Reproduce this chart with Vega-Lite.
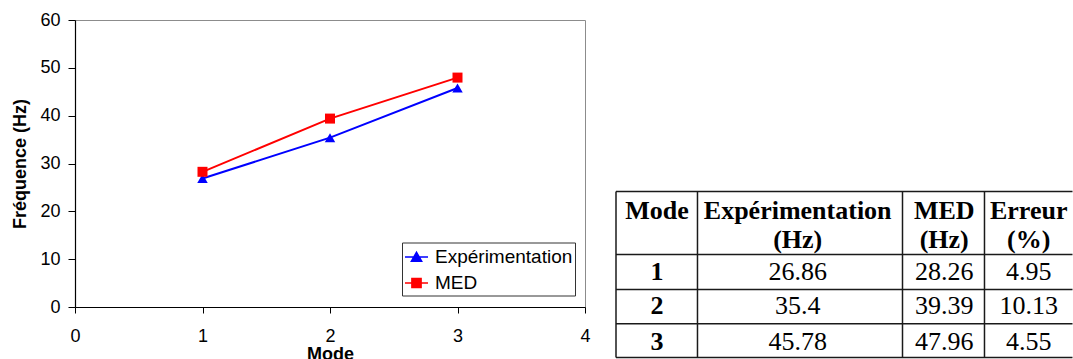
{
  "$schema": "https://vega.github.io/schema/vega-lite/v6.json",
  "padding": {"left": 11, "top": 10, "right": 0, "bottom": 0},
  "background": "white",
  "bounds": "flush",
  "spacing": 31,
  "config": {
    "view": {"stroke": null},
    "font": "Liberation Sans"
  },
  "datasets": {
    "freq": [
      {"Mode": 1, "Série": "Expérimentation", "Fréquence": 26.86},
      {"Mode": 2, "Série": "Expérimentation", "Fréquence": 35.4},
      {"Mode": 3, "Série": "Expérimentation", "Fréquence": 45.78},
      {"Mode": 1, "Série": "MED", "Fréquence": 28.26},
      {"Mode": 2, "Série": "MED", "Fréquence": 39.39},
      {"Mode": 3, "Série": "MED", "Fréquence": 47.96}
    ],
    "cells": [
      {"x": 9, "y": 0.6, "texte": "Mode", "type": "entête"},
      {"x": 39.8, "y": 0.6, "texte": "Expérimentation", "type": "entête"},
      {"x": 39.8, "y": 1.45, "texte": "(Hz)", "type": "entête"},
      {"x": 71.9, "y": 0.6, "texte": "MED", "type": "entête"},
      {"x": 71.9, "y": 1.45, "texte": "(Hz)", "type": "entête"},
      {"x": 90.4, "y": 0.6, "texte": "Erreur", "type": "entête"},
      {"x": 90.4, "y": 1.45, "texte": "(%)", "type": "entête"},
      {"x": 9, "y": 2.42, "texte": "1", "type": "mode"},
      {"x": 9, "y": 3.45, "texte": "2", "type": "mode"},
      {"x": 9, "y": 4.52, "texte": "3", "type": "mode"},
      {"x": 39.8, "y": 2.42, "texte": "26.86", "type": "valeur"},
      {"x": 71.9, "y": 2.42, "texte": "28.26", "type": "valeur"},
      {"x": 90.4, "y": 2.42, "texte": "4.95", "type": "valeur"},
      {"x": 39.8, "y": 3.45, "texte": "35.4", "type": "valeur"},
      {"x": 71.9, "y": 3.45, "texte": "39.39", "type": "valeur"},
      {"x": 90.4, "y": 3.45, "texte": "10.13", "type": "valeur"},
      {"x": 39.8, "y": 4.52, "texte": "45.78", "type": "valeur"},
      {"x": 71.9, "y": 4.52, "texte": "47.96", "type": "valeur"},
      {"x": 90.4, "y": 4.52, "texte": "4.55", "type": "valeur"}
    ],
    "hlines": [{"y": 0}, {"y": 1.9}, {"y": 2.95}, {"y": 3.98}, {"y": 5}],
    "vlines": [{"x": 0}, {"x": 17.85}, {"x": 62.76}, {"x": 80.72}]
  },
  "resolve": {"scale": {"color": "independent", "fill": "independent", "stroke": "independent", "shape": "independent", "x": "independent", "y": "independent"}},
  "hconcat": [
    {
      "width": 510,
      "height": 287,
      "view": {"stroke": "#8c8c8c", "strokeWidth": 1},
      "data": {"name": "freq"},
      "encoding": {
        "x": {
          "field": "Mode", "type": "quantitative",
          "scale": {"domain": [0, 4], "nice": false, "zero": false},
          "axis": {
            "values": [0, 1, 2, 3, 4], "title": "Mode", "grid": false,
            "labelFont": "Liberation Sans", "labelFontSize": 18, "labelColor": "black",
            "labelPadding": 14, "labelFlush": false, "labelOverlap": false,
            "tickColor": "black", "tickSize": 6, "domainColor": "black", "domainWidth": 1.2,
            "titleFont": "Liberation Sans", "titleFontSize": 18, "titleFontWeight": "bold",
            "titleColor": "black", "titlePadding": 0
          }
        },
        "y": {
          "field": "Fréquence", "type": "quantitative",
          "scale": {"domain": [0, 60], "nice": false},
          "axis": {
            "values": [0, 10, 20, 30, 40, 50, 60], "title": "Fréquence (Hz)", "grid": false,
            "labelFont": "Liberation Sans", "labelFontSize": 18, "labelColor": "black",
            "labelPadding": 8, "labelFlush": false, "labelOverlap": false,
            "tickColor": "black", "tickSize": 7, "domainColor": "black", "domainWidth": 1.2,
            "titleFont": "Liberation Sans", "titleFontSize": 18, "titleFontWeight": "bold",
            "titleColor": "black", "titlePadding": 10
          }
        }
      },
      "layer": [
        {
          "transform": [{"filter": "datum['Série'] === 'Expérimentation'"}],
          "mark": {"type": "line", "strokeWidth": 2, "color": "#0000ff"}
        },
        {
          "transform": [{"filter": "datum['Série'] === 'MED'"}],
          "mark": {"type": "line", "strokeWidth": 2, "color": "#ff0000"}
        },
        {
          "transform": [{"filter": "datum['Série'] === 'Expérimentation'"}],
          "mark": {"type": "point", "shape": "triangle-up", "filled": true, "opacity": 1, "size": 110, "color": "#0000ff"}
        },
        {
          "transform": [{"filter": "datum['Série'] === 'MED'"}],
          "mark": {"type": "point", "shape": "square", "filled": true, "opacity": 1, "size": 100, "color": "#ff0000"}
        },
        {
          "mark": {"type": "point", "opacity": 0, "strokeWidth": 1.5},
          "encoding": {
            "fill": {
              "field": "Série", "type": "nominal",
              "scale": {"domain": ["Expérimentation", "MED"], "range": ["#0000ff", "#ff0000"]},
              "legend": {
                "title": null, "orient": "none", "legendX": 327, "legendY": 222.5,
                "fillColor": "white", "strokeColor": "#333333", "padding": 2, "cornerRadius": 0,
                "labelFont": "Liberation Sans", "labelFontSize": 19, "labelColor": "black",
                "labelOffset": 6, "labelLimit": 400, "symbolOpacity": 1,
                "symbolSize": 529, "symbolStrokeWidth": 1.5, "rowPadding": 3
              }
            },
            "stroke": {
              "field": "Série", "type": "nominal",
              "scale": {"domain": ["Expérimentation", "MED"], "range": ["#0000ff", "#ff0000"]},
              "legend": {
                "title": null, "orient": "none", "legendX": 327, "legendY": 222.5,
                "fillColor": "white", "strokeColor": "#333333", "padding": 2, "cornerRadius": 0,
                "labelFont": "Liberation Sans", "labelFontSize": 19, "labelColor": "black",
                "labelOffset": 6, "labelLimit": 400, "symbolOpacity": 1,
                "symbolSize": 529, "symbolStrokeWidth": 1.5, "rowPadding": 3
              }
            },
            "shape": {
              "field": "Série", "type": "nominal",
              "scale": {"domain": ["Expérimentation", "MED"], "range": ["M-1,0H1M-0.45,0.38L0,-0.42L0.45,0.38Z", "M-1,0H1M-0.4,-0.4H0.4V0.4H-0.4Z"]},
              "legend": {
                "title": null, "orient": "none", "legendX": 327, "legendY": 222.5,
                "fillColor": "white", "strokeColor": "#333333", "padding": 2, "cornerRadius": 0,
                "labelFont": "Liberation Sans", "labelFontSize": 19, "labelColor": "black",
                "labelOffset": 6, "labelLimit": 400, "symbolOpacity": 1,
                "symbolSize": 529, "symbolStrokeWidth": 1.5, "rowPadding": 3
              }
            }
          }
        }
      ]
    },
    {
      "width": 456.5,
      "height": 338,
      "layer": [
        {
          "data": {"name": "hlines"},
          "mark": {"type": "rule", "color": "#1a1a1a", "strokeWidth": 1.5},
          "encoding": {
            "y": {"field": "y", "type": "quantitative", "scale": {"domain": [0, 5], "range": [171.5, 337.5], "nice": false, "zero": false}, "axis": null},
            "x": {"datum": 0, "type": "quantitative", "scale": {"domain": [0, 100], "nice": false, "zero": false}, "axis": null},
            "x2": {"datum": 100}
          }
        },
        {
          "data": {"name": "vlines"},
          "mark": {"type": "rule", "color": "#1a1a1a", "strokeWidth": 1.5},
          "encoding": {
            "x": {"field": "x", "type": "quantitative", "axis": null},
            "y": {"datum": 0, "type": "quantitative", "axis": null},
            "y2": {"datum": 5}
          }
        },
        {
          "data": {"name": "cells"},
          "transform": [{"filter": "datum.type !== 'valeur'"}],
          "mark": {"type": "text", "font": "Liberation Serif", "fontSize": 26, "fontWeight": "bold", "baseline": "middle", "align": "center", "color": "black"},
          "encoding": {
            "x": {"field": "x", "type": "quantitative", "axis": null},
            "y": {"field": "y", "type": "quantitative", "axis": null},
            "text": {"field": "texte", "type": "nominal"}
          }
        },
        {
          "data": {"name": "cells"},
          "transform": [{"filter": "datum.type === 'valeur'"}],
          "mark": {"type": "text", "font": "Liberation Serif", "fontSize": 26, "fontWeight": "normal", "baseline": "middle", "align": "center", "color": "black"},
          "encoding": {
            "x": {"field": "x", "type": "quantitative", "axis": null},
            "y": {"field": "y", "type": "quantitative", "axis": null},
            "text": {"field": "texte", "type": "nominal"}
          }
        }
      ]
    }
  ]
}
